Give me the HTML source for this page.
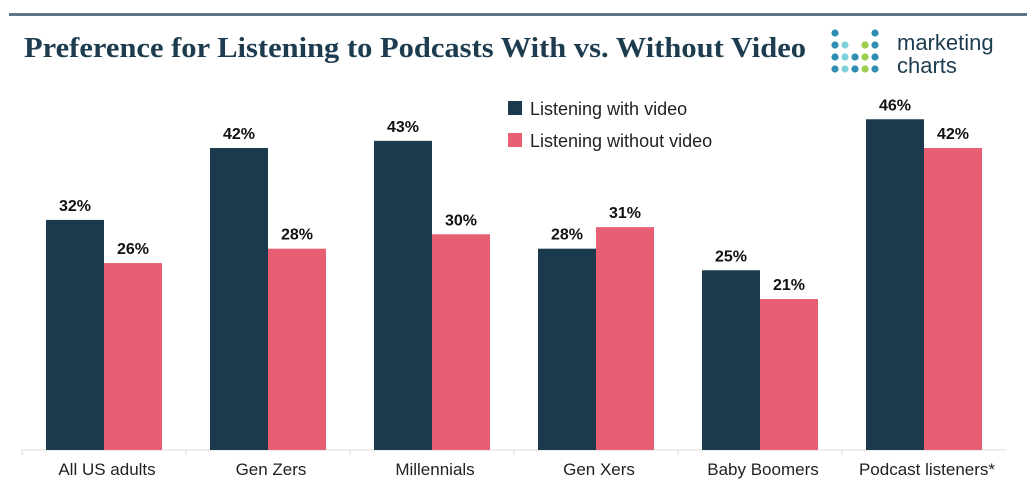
<!DOCTYPE html>
<html><head><meta charset="utf-8"><style>
body{margin:0;background:#fff;width:1030px;height:495px;overflow:hidden;font-family:"Liberation Sans",sans-serif}
</style></head><body>
<svg width="1030" height="495">
<rect x="9" y="13" width="1018" height="3" fill="#5f7586"/>
<text x="24" y="57" font-family="Liberation Serif" font-weight="bold" font-size="29" fill="#1d3c50" textLength="782" lengthAdjust="spacingAndGlyphs">Preference for Listening to Podcasts With vs. Without Video</text>
<g>
<g id="dots"></g>
<text x="897" y="50" font-size="22" fill="#1d3c50">marketing</text>
<text x="897" y="73" font-size="22" fill="#1d3c50">charts</text>
</g>
<g>
<rect x="508" y="101" width="14" height="14" fill="#1b3a4e"/>
<text x="530" y="115" font-size="18" fill="#222">Listening with video</text>
<rect x="508" y="133" width="14" height="14" fill="#e85f74"/>
<text x="530" y="147" font-size="18" fill="#222">Listening without video</text>
</g>
<g id="plot"></g>
</svg>
<script>
const categories=["All US adults","Gen Zers","Millennials","Gen Xers","Baby Boomers","Podcast listeners*"];
const withVideo=[32,42,43,28,25,46];
const withoutVideo=[26,28,30,31,21,42];
const NS="http://www.w3.org/2000/svg";
const base=450, pxPer=7.19, x0=22, gw=164, bw=58;
const y=v=>base-v*pxPer;
const xg=i=>x0+i*gw;
const plot=document.getElementById('plot');
function mk(t,a){const e=document.createElementNS(NS,t);for(const k in a)e.setAttribute(k,a[k]);plot.appendChild(e);return e;}
const ax=mk('line',{x1:x0,x2:x0+6*gw,y1:base,y2:base,stroke:'#ddd'});


categories.forEach((c,i)=>{
  const tk=mk('line',{x1:xg(i),x2:xg(i),y1:base,y2:base+5,stroke:'#ddd'});
  
  
  [[withVideo,'#1b3a4e',0,'with'],[withoutVideo,'#e85f74',1,'without']].forEach(([arr,col,k,nm])=>{
    const v=arr[i], bx=xg(i)+24+k*bw;
    const r=mk('rect',{x:bx,y:y(v),width:bw,height:v*pxPer,fill:col});
    
    
    const t=mk('text',{x:bx+bw/2,y:y(v)-9,'text-anchor':'middle','font-size':'16','font-weight':'bold',fill:'#111'});
    t.textContent=v+'%';
    
    
  });
  const l=mk('text',{x:xg(i)+gw/2+3,y:475,'text-anchor':'middle','font-size':'17',fill:'#222'});
  l.textContent=c;
  
  
});
const dots=document.getElementById('dots');
const grid=[[1,0,0,0,1],[1,1,0,1,1],[1,1,1,1,1],[1,1,1,1,1]];
grid.forEach((row,r)=>row.forEach((on,c)=>{if(!on)return;const d=document.createElementNS(NS,'circle');
d.setAttribute('cx',835+c*10);d.setAttribute('cy',33+r*12);d.setAttribute('r',3.6);
d.setAttribute('fill',c==3&&r>0?"#9ccf4f":(c%2?"#7fd0d8":"#2f8fb3"));


dots.appendChild(d);}));
</script>
</body></html>
